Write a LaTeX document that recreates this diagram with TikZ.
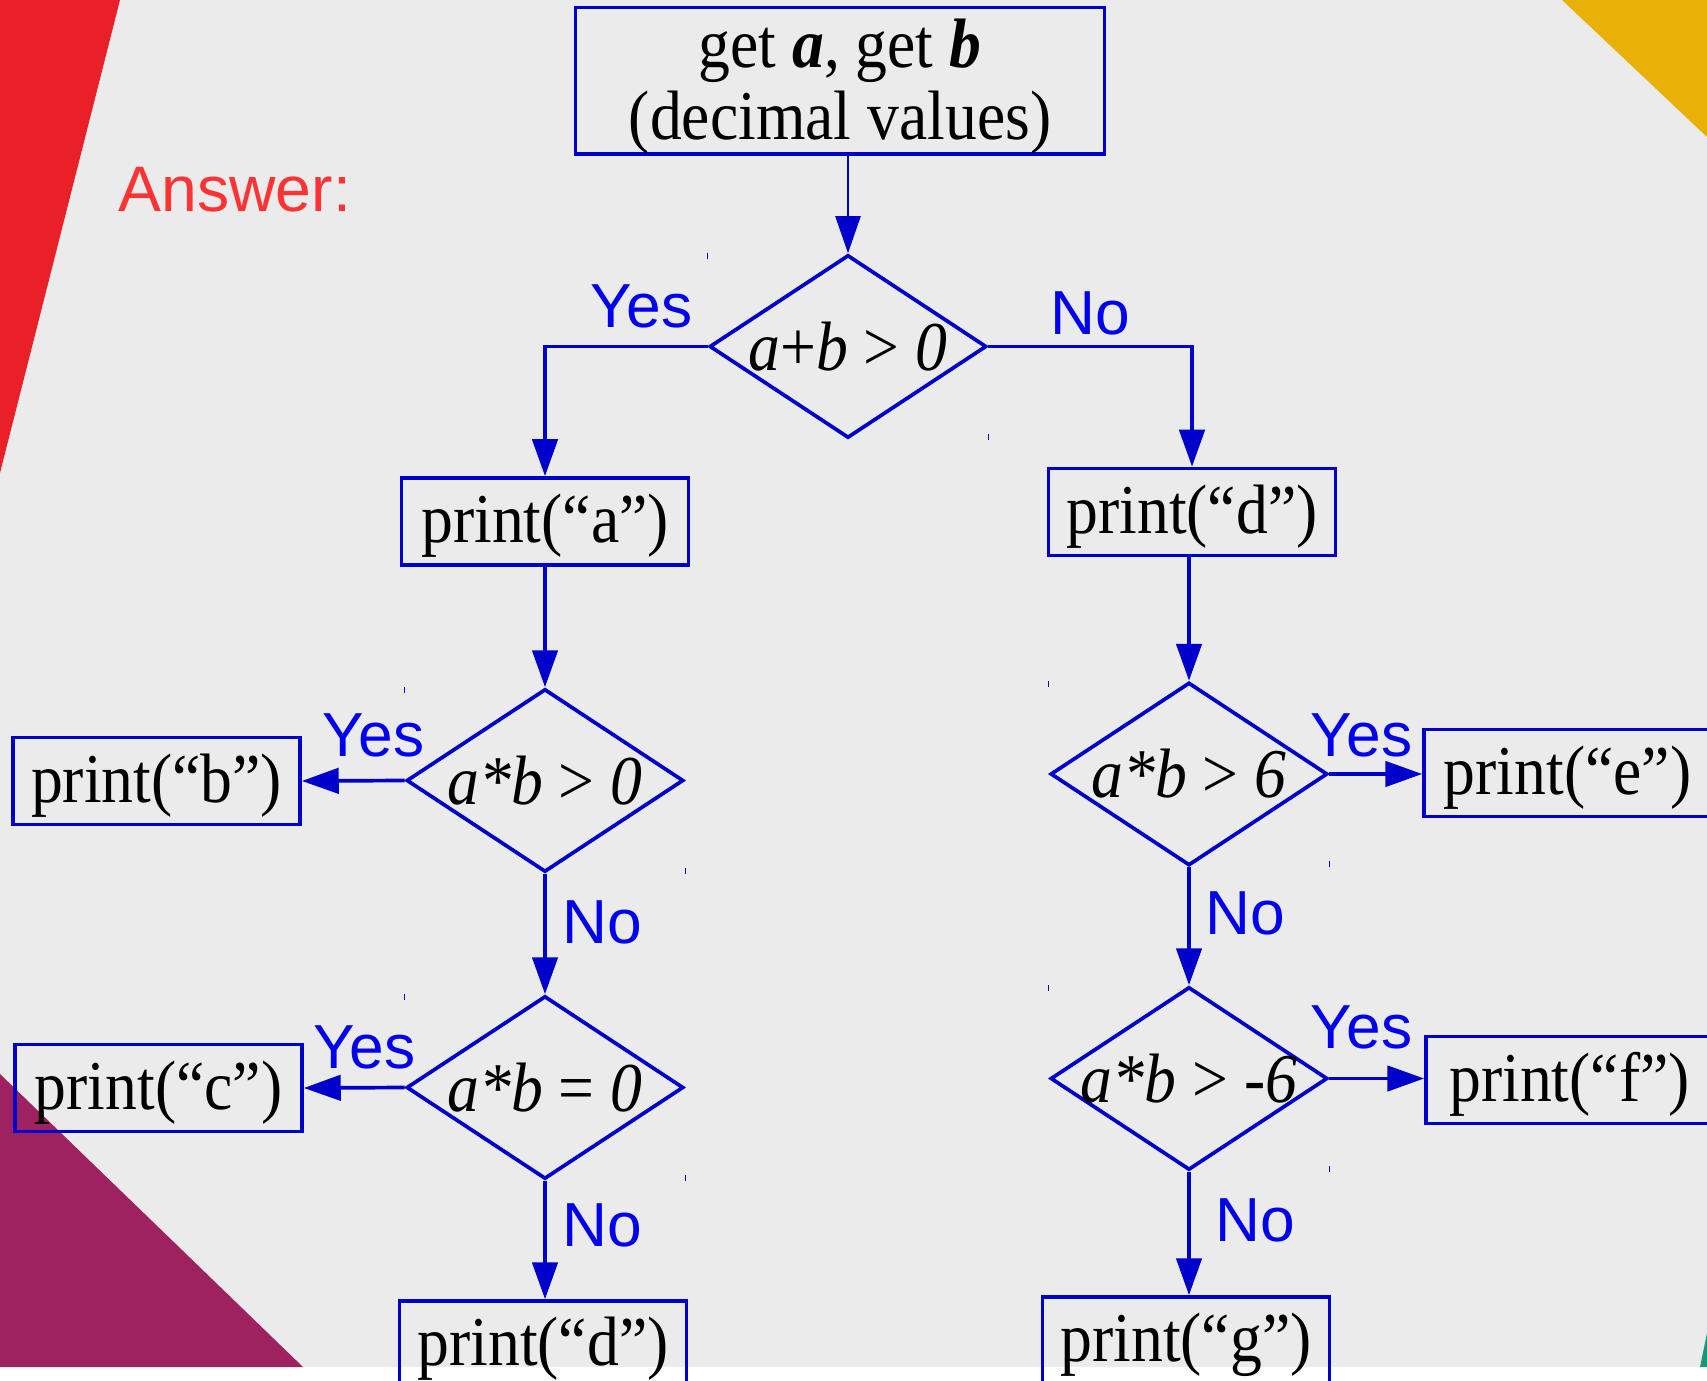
\documentclass[tikz,border=0pt]{standalone}
\usepackage{fontspec}
\setmainfont[FakeStretch=0.91]{Liberation Serif}
\newfontfamily\sansfam{Liberation Sans}
\usepackage{xcolor}
\usepackage{tikz}
\usetikzlibrary{arrows.meta,positioning,shapes.geometric}
\definecolor{bggray}{RGB}{235,235,235}
\definecolor{flowblue}{RGB}{0,0,205}
\definecolor{labelblue}{RGB}{0,0,240}
\definecolor{answerred}{RGB}{255,51,51}
\definecolor{cornerred}{RGB}{234,32,41}
\definecolor{cornergold}{RGB}{233,176,6}
\definecolor{cornerplum}{RGB}{158,34,96}
\definecolor{cornerteal}{RGB}{25,150,120}
\newcommand{\boxfont}{\fontsize{19.9}{20.5}\selectfont}
\newcommand{\condtext}[1]{\makebox[0pt]{#1}}

\begin{document}
\begin{tikzpicture}[
  topbox/.style={draw=flowblue, line width=1.05pt, minimum width=5.29cm, minimum height=1.44cm, align=center, font=\boxfont, inner sep=0pt},
  procbox/.style={draw=flowblue, line width=1.05pt, minimum width=2.87cm, minimum height=0.87cm, inner sep=0pt, font=\boxfont, text height=12pt, text depth=0pt},
  decision/.style={draw=flowblue, line width=1.05pt, diamond, minimum width=2.77cm, minimum height=1.83cm, inner sep=0pt, font=\boxfont\itshape},
  flow/.style={draw=flowblue, line width=1.05pt, -{Triangle[length=10.5pt, width=7.2pt]}},
  thinflow/.style={draw=flowblue, line width=0.35pt, -{Triangle[length=10.5pt, width=7.2pt]}},
  lbl/.style={font=\sansfam\fontsize{17.7}{21}\selectfont, text=labelblue, anchor=base west, inner sep=0pt},
  tick/.style={draw=flowblue, line width=0.4pt}
]
\useasboundingbox (0,0) rectangle (17.07,-13.81);

% slide background
\fill[white] (0,0) rectangle (17.07,-13.81);
\fill[bggray] (0,0) rectangle (17.07,-13.67);
\fill[cornerred] (0,0) -- (1.20,0) -- (0,-4.73) -- cycle;
\fill[cornergold] (15.62,0) -- (17.07,0) -- (17.07,-1.37) -- cycle;
\fill[cornerplum] (0,-10.74) -- (3.03,-13.67) -- (0,-13.67) -- cycle;
\fill[cornerteal] (17.00,-13.67) -- (17.07,-13.33) -- (17.07,-13.67) -- cycle;

\node[lbl, text=answerred, font=\sansfam\fontsize{18.3}{21}\selectfont] (answer) at (1.18,-2.12) {Answer:};

\node[topbox] (getab) at (8.40,-0.81) {\rule{0pt}{17pt}get \textbf{\textit{a}}, get \textbf{\textit{b}}\\(decimal values)};
\node[decision] (d1) at (8.48,-3.465) {\condtext{a\textup{+}b \textup{>} 0}};

\node[procbox] (pa) at (5.45,-5.215) {print(“a”)};
\node[procbox] (pdr) at (11.92,-5.12) {print(“d”)};

\node[decision] (d2) at (5.45,-7.805) {\condtext{a*b \textup{>} 0}};
\node[procbox] (pb) at (1.565,-7.81) {print(“b”)};
\node[decision] (d3) at (5.45,-10.875) {\condtext{a*b \textup{=} 0}};
\node[procbox] (pc) at (1.585,-10.88) {print(“c”)};
\node[procbox] (pd) at (5.43,-13.445) {print(“d”)};

\node[decision] (d4) at (11.89,-7.74) {\condtext{a*b \textup{>} 6}};
\node[procbox] (pe) at (15.675,-7.73) {print(“e”)};
\node[decision] (d5) at (11.89,-10.785) {\condtext{a*b \textup{>} -6}};
\node[procbox] (pf) at (15.695,-10.80) {print(“f”)};
\node[procbox] (pg) at (11.86,-13.405) {print(“g”)};

\draw[thinflow] (getab.south -| d1.north) -- (d1.north);
\draw[flow] (d1.west) -| (pa.north);
\draw[flow] (d1.east) -| (pdr.north);
\draw[flow] (pa.south) -- (d2.north);
\draw[flow] (d2.west) -- (pb.east);
\draw[flow] (d2.south) -- (d3.north);
\draw[flow] (d3.west) -- (pc.east);
\draw[flow] (d3.south) -- (d3.south |- pd.north);
\draw[flow] (pdr.south -| d4.north) -- (d4.north);
\draw[flow] (d4.east) -- (d4.east -| pe.west);
\draw[flow] (d4.south) -- (d5.north);
\draw[flow] (d5.east) -- (d5.east -| pf.west);
\draw[flow] (d5.south) -- (d5.south |- pg.north);

\node[lbl] (yes1) at (5.90,-3.28) {Yes};
\node[lbl] (no1) at (10.50,-3.35) {No};
\node[lbl] (yes2) at (3.22,-7.56) {Yes};
\node[lbl] (no2) at (5.62,-9.43) {No};
\node[lbl] (yes3) at (3.13,-10.68) {Yes};
\node[lbl] (no3) at (5.62,-12.46) {No};
\node[lbl] (yes4) at (13.10,-7.56) {Yes};
\node[lbl] (no4) at (12.05,-9.34) {No};
\node[lbl] (yes5) at (13.10,-10.48) {Yes};
\node[lbl] (no5) at (12.15,-12.41) {No};

% small marks at the diamond corners
\draw[tick] (d1.north -| d1.west) -- ++(0,-0.06);
\draw[tick] (d1.south -| d1.east) -- ++(0,0.06);
\draw[tick] (d2.north -| d2.west) -- ++(0,-0.06);
\draw[tick] (d2.south -| d2.east) -- ++(0,0.06);
\draw[tick] (d3.north -| d3.west) -- ++(0,-0.06);
\draw[tick] (d3.south -| d3.east) -- ++(0,0.06);
\draw[tick] (d4.north -| d4.west) -- ++(0,-0.06);
\draw[tick] (d4.south -| d4.east) -- ++(0,0.06);
\draw[tick] (d5.north -| d5.west) -- ++(0,-0.06);
\draw[tick] (d5.south -| d5.east) -- ++(0,0.06);
\end{tikzpicture}
\end{document}
